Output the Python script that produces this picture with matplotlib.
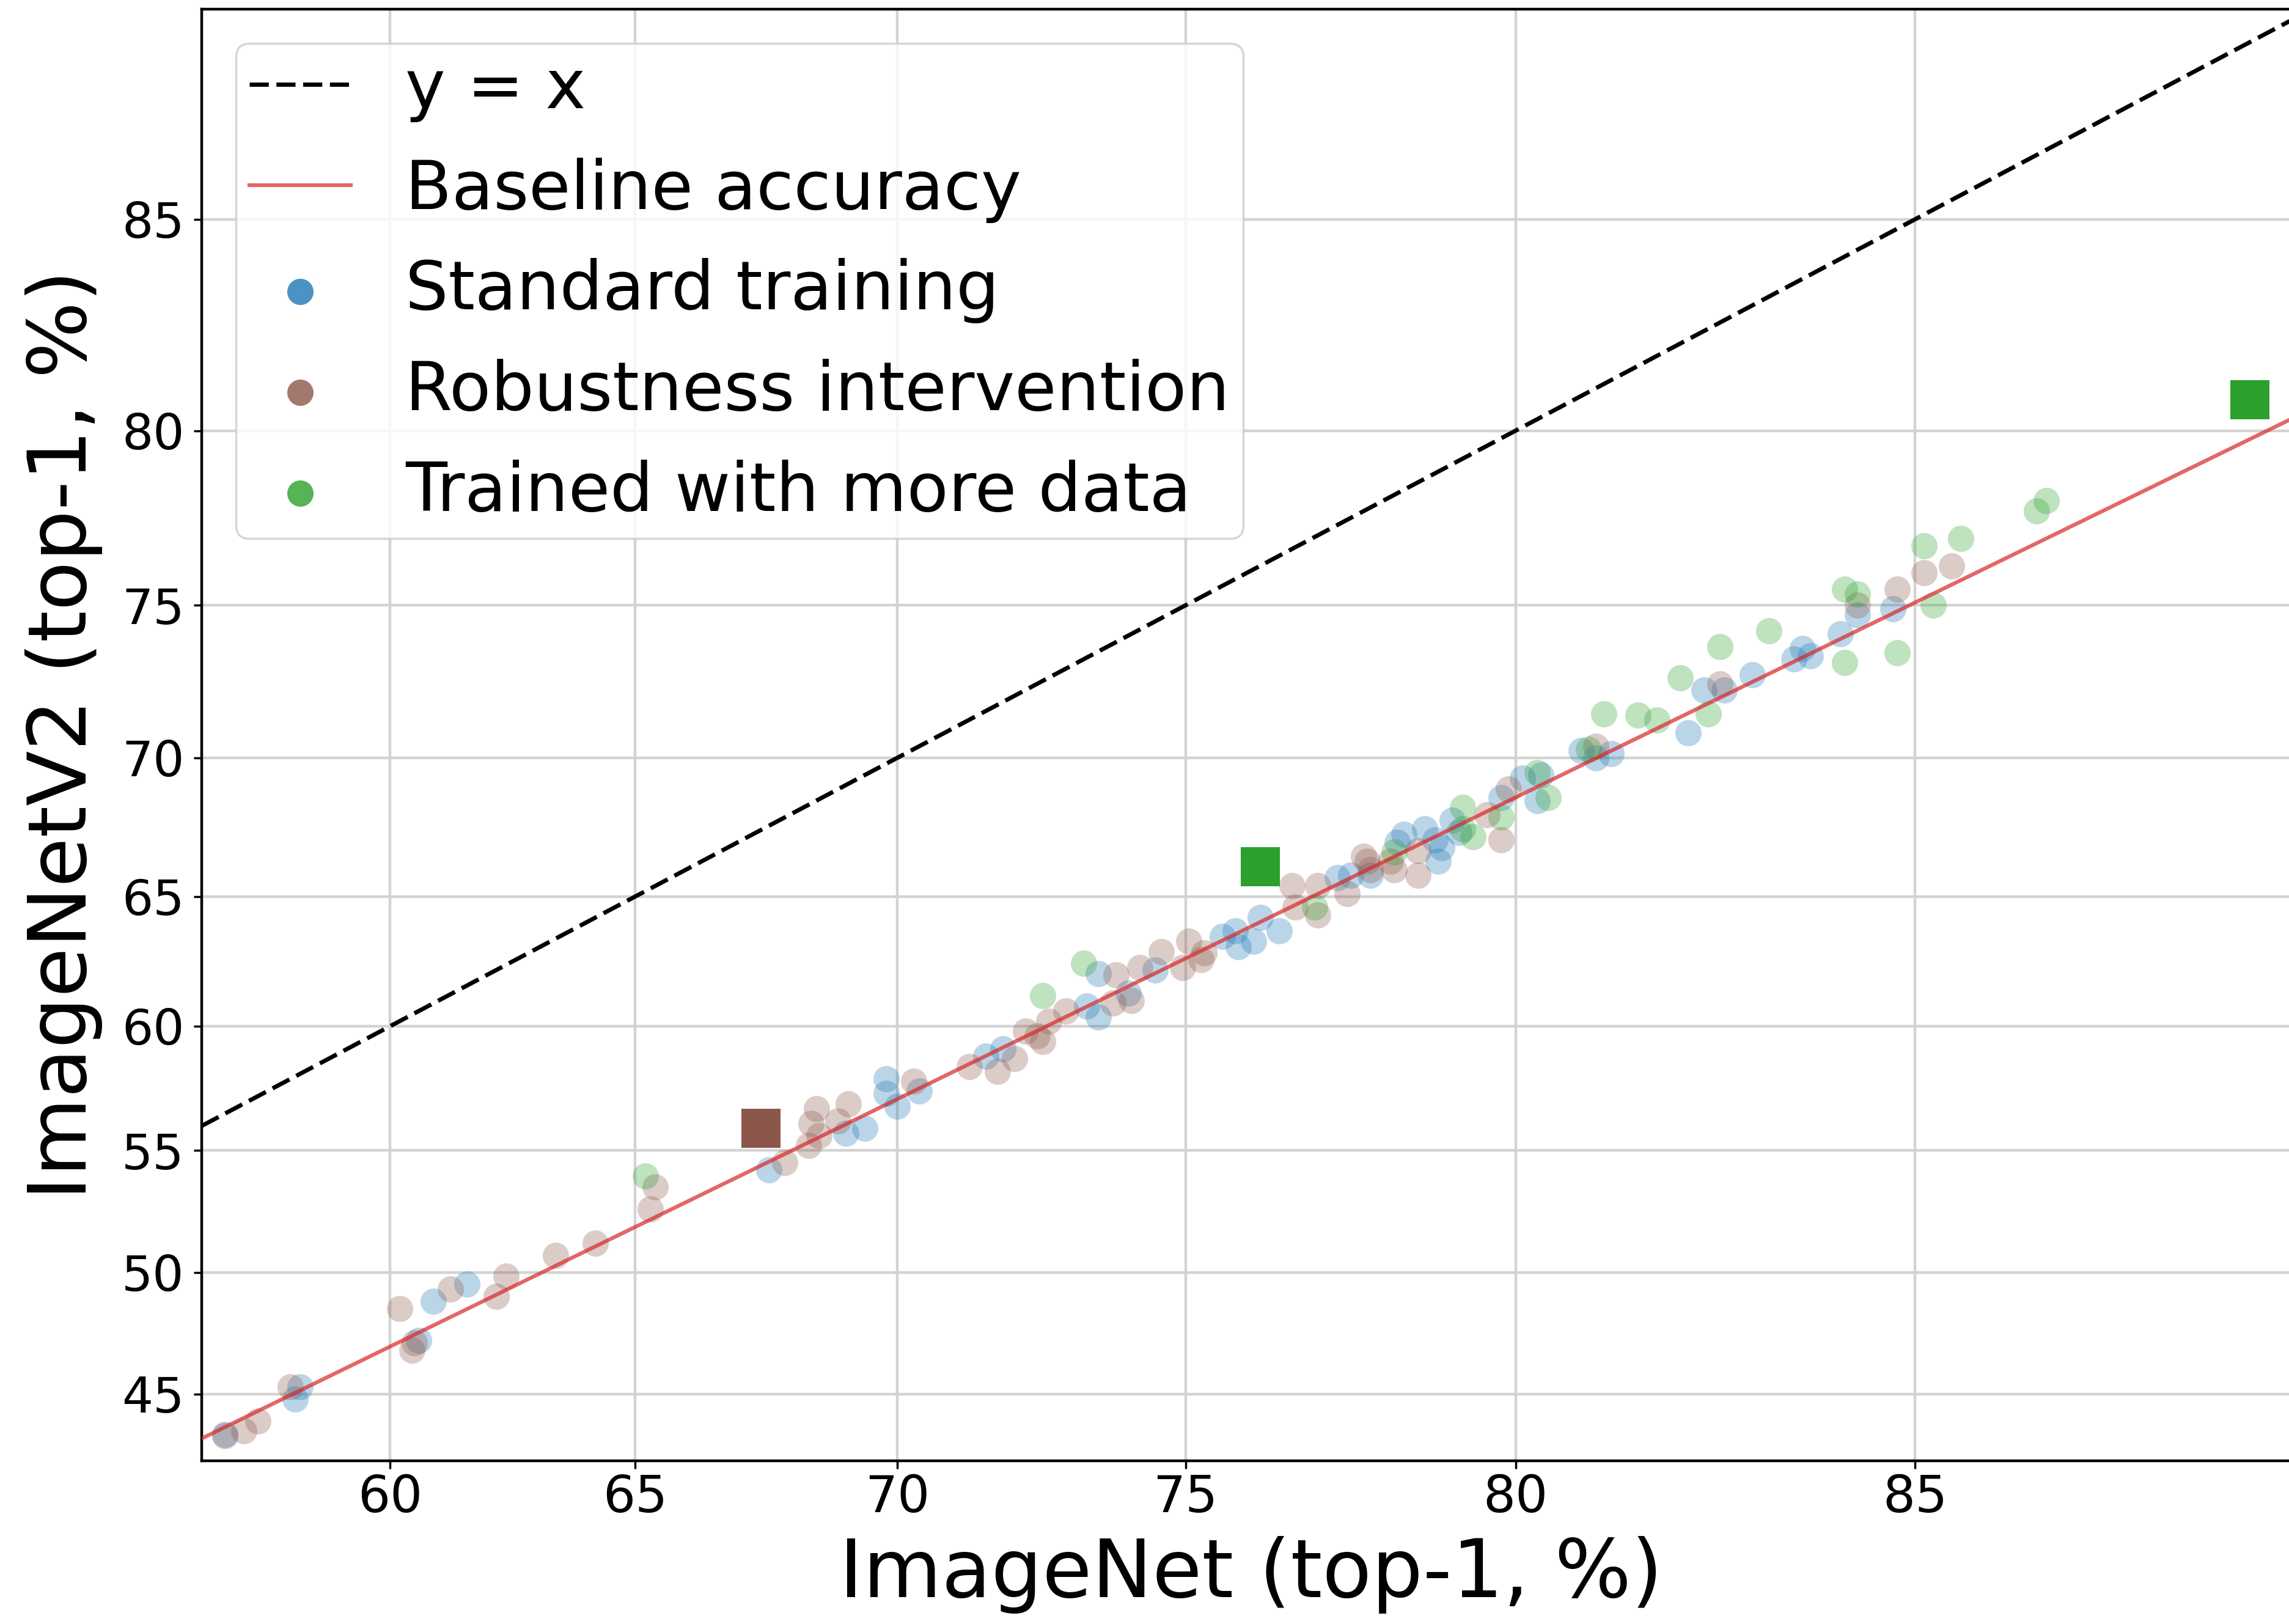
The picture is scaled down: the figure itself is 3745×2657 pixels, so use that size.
import numpy as np
import matplotlib
matplotlib.use("Agg")
import matplotlib.pyplot as plt
from matplotlib.ticker import FixedLocator, FixedFormatter, NullLocator


# ImageNet top-1 (x) vs ImageNetV2 top-1 (y), in percent
std_x = [56.5, 58.1, 58.0, 60.6, 60.9, 61.6, 67.6, 69.05, 69.4, 69.8, 69.8, 70.0,
         70.4, 71.6, 71.9, 73.35, 73.55, 73.55, 74.05, 74.5, 75.6, 75.8, 75.85,
         76.1, 76.2, 76.5, 77.4, 77.6, 77.9, 78.3, 78.4, 78.7, 78.85, 78.95, 78.9,
         79.1, 79.2, 79.8, 80.1, 80.3, 80.35, 80.9, 81.1, 81.3, 82.3, 82.5, 82.75,
         83.1, 83.6, 83.7, 83.8, 84.15, 84.35, 84.75]
std_y = [43.35, 45.3, 44.8, 47.2, 48.8, 49.5, 54.2, 55.7, 55.9, 57.9, 57.3, 56.8,
         57.4, 58.8, 59.1, 60.8, 60.35, 62.05, 61.3, 62.2, 63.5, 63.7, 63.1,
         63.3, 64.2, 63.7, 65.7, 65.8, 65.8, 67.0, 67.3, 67.5, 67.1, 66.8, 66.3,
         67.8, 67.35, 68.6, 69.3, 68.5, 69.4, 70.25, 70.0, 70.15, 70.85, 72.3, 72.3,
         72.8, 73.3, 73.65, 73.4, 74.1, 74.7, 74.9]

rob_x = [56.5, 56.9, 57.2, 57.9, 60.2, 60.5, 60.45, 61.25, 62.4, 62.2, 63.4, 64.2,
         65.3, 65.4, 67.9, 68.35, 68.4, 68.5, 68.55, 68.9, 69.1, 70.3, 71.3, 71.8,
         72.1, 72.3, 72.5, 72.6, 72.7, 73.0, 73.8, 73.85, 74.1, 74.25, 74.6, 74.95,
         75.05, 75.25, 75.3, 76.7, 76.75, 77.1, 77.1, 77.55, 77.8, 78.2, 77.85,
         77.9, 78.25, 78.6, 78.6, 79.6, 79.8, 79.9, 81.1, 82.7, 84.35, 84.8, 85.1,
         85.4]
rob_y = [43.3, 43.5, 43.9, 45.3, 48.5, 47.1, 46.8, 49.3, 49.85, 49.0, 50.7, 51.2,
         52.6, 53.5, 54.5, 55.2, 56.1, 56.7, 55.6, 56.2, 56.9, 57.8, 58.4, 58.2,
         58.7, 59.8, 59.6, 59.4, 60.2, 60.6, 60.9, 62.0, 61.0, 62.3, 62.9, 62.3,
         63.3, 62.6, 62.85, 65.4, 64.6, 64.3, 65.4, 65.1, 66.5, 66.3, 66.3,
         66.0, 66.0, 66.7, 65.8, 68.0, 67.1, 68.9, 70.4, 72.5, 75.0, 75.5, 76.0,
         76.2]

more_x = [65.2, 72.6, 73.3, 77.05, 78.25, 79.25, 79.25, 79.4, 79.8, 80.3, 80.45,
          81.0, 81.2, 81.65, 81.9, 82.2, 82.55, 82.7, 83.3, 84.2, 84.2, 84.35,
          84.8, 85.1, 85.2, 85.5, 86.3, 86.4]
more_y = [53.96, 61.2, 62.45, 64.6, 66.65, 68.25, 67.5, 67.2, 67.9, 69.5, 68.6,
          70.3, 71.5, 71.45, 71.3, 72.7, 71.5, 73.7, 74.2, 73.2, 75.5, 75.35,
          73.5, 76.8, 75.0, 77.0, 77.8, 78.1]

# highlighted models (squares)
sq_rob_x = [67.45]
sq_rob_y = [55.9]
sq_more_x = [76.2, 88.35]
sq_more_y = [66.1, 80.8]

# y = x and the fitted baseline (straight in logit space)
diag_x = [56, 90]
diag_y = [56, 90]
base_x = [56, 90]
base_y = [43.2, 82.2]

x_ticks = [60, 65, 70, 75, 80, 85]
y_ticks = [45, 50, 55, 60, 65, 70, 75, 80, 85]


def logit_pct(v):
    p = np.clip(np.asarray(v, dtype=float) / 100.0, 1e-6, 1 - 1e-6)
    return np.log(p / (1 - p))


def inv_logit_pct(v):
    return 100.0 / (1.0 + np.exp(-np.asarray(v, dtype=float)))


W, H = 3745, 2657
fig = plt.figure(figsize=(W / 100, H / 100), dpi=100)
# the axes run slightly past the right edge of the picture (cropped original)
ax = fig.add_axes([330 / W, 1 - 2390 / H, (3764 - 330) / W, (2390 - 15) / H])

ax.set_xscale("function", functions=(logit_pct, inv_logit_pct))
ax.set_yscale("function", functions=(logit_pct, inv_logit_pct))

ms = 960
ax.scatter(std_x, std_y, s=ms, color="tab:blue", alpha=0.3, linewidths=0,
           label="Standard training", zorder=3)
ax.scatter(rob_x, rob_y, s=ms, color="tab:brown", alpha=0.3, linewidths=0,
           label="Robustness intervention", zorder=3)
ax.scatter(more_x, more_y, s=ms, color="tab:green", alpha=0.3, linewidths=0,
           label="Trained with more data", zorder=3)

ax.scatter(sq_rob_x, sq_rob_y, s=2100, marker="s", color="tab:brown",
           linewidths=0, zorder=5)
ax.scatter(sq_more_x, sq_more_y, s=2100, marker="s", color="tab:green",
           linewidths=0, zorder=5)

diag, = ax.plot(diag_x, diag_y, "--", color="black", lw=5, label="y = x", zorder=4)
diag.set_dashes([4.5, 1.8])
ax.plot(base_x, base_y, "-", color="tab:red", alpha=0.7, lw=4.5,
        label="Baseline accuracy", zorder=4)

ax.set_xlim(56.0, 88.8)
ax.set_ylim(42.3, 88.9)

ax.xaxis.set_major_locator(FixedLocator(x_ticks))
ax.xaxis.set_major_formatter(FixedFormatter([str(t) for t in x_ticks]))
ax.yaxis.set_major_locator(FixedLocator(y_ticks))
ax.yaxis.set_major_formatter(FixedFormatter([str(t) for t in y_ticks]))
ax.xaxis.set_minor_locator(NullLocator())
ax.yaxis.set_minor_locator(NullLocator())

ax.grid(True, color="#d3d3d3", lw=3.2, zorder=0)
ax.set_axisbelow(True)
ax.tick_params(labelsize=58, length=9.5, width=2.5)
ax.tick_params(axis="x", pad=5, labelsize=60)
ax.tick_params(axis="y", pad=11)
for sp in ax.spines.values():
    sp.set_linewidth(3.2)

ax.set_xlabel("ImageNet (top-1, %)", fontsize=95, labelpad=16)
ax.set_ylabel("ImageNetV2 (top-1, %)", fontsize=95, labelpad=22)

handles, labels = ax.get_legend_handles_labels()
order = ["y = x", "Baseline accuracy", "Standard training",
         "Robustness intervention", "Trained with more data"]
hmap = dict(zip(labels, handles))
leg = ax.legend([hmap[k] for k in order], order, loc="upper left", fontsize=80,
                labelspacing=0.52, handlelength=1.5, handletextpad=0.8,
                borderpad=0.2, framealpha=0.8)
leg.get_frame().set_linewidth(2.5)
for h in leg.legend_handles[2:]:
    h.set_alpha(0.8)

fig.savefig("out.png", dpi=100)
